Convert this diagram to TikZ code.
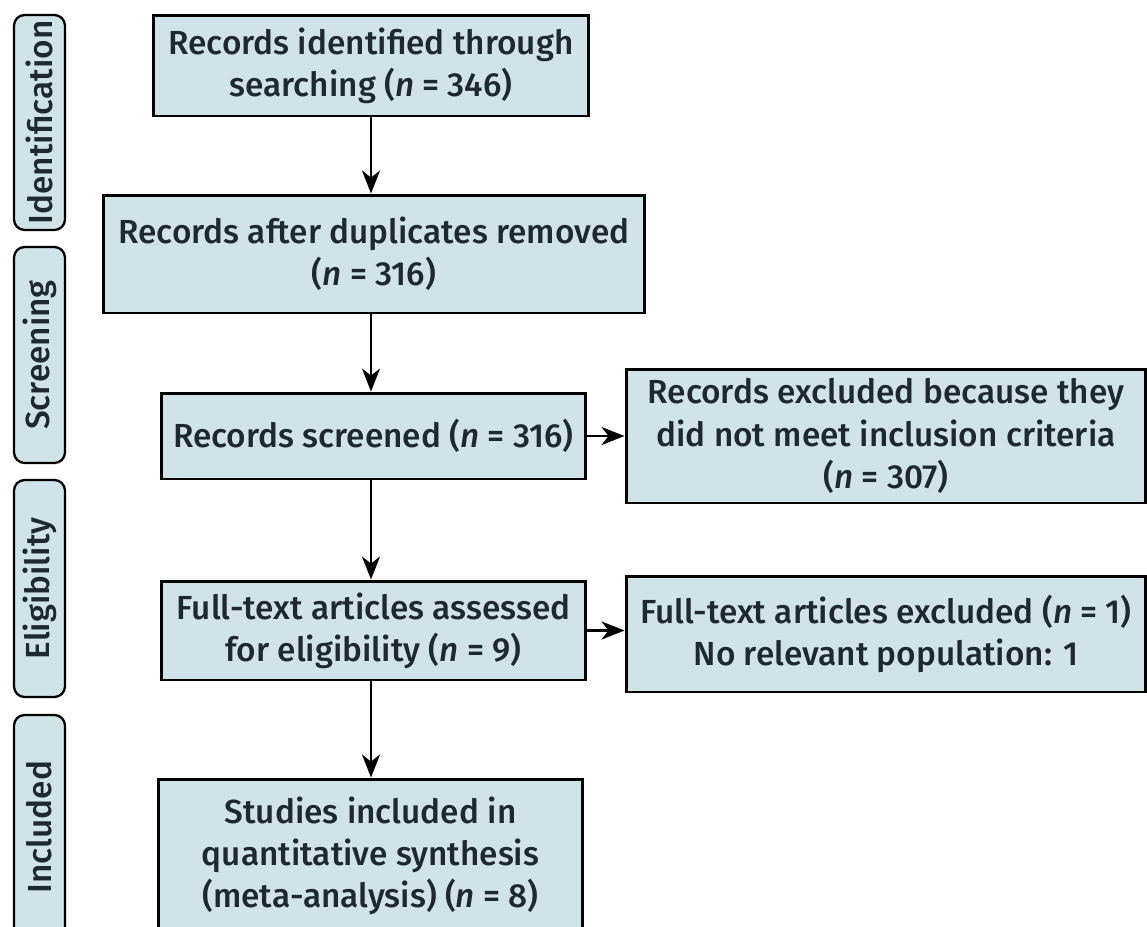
\documentclass[tikz,border=0pt]{standalone}
\usepackage{fontspec}
\setmainfont{Fira Sans}[UprightFont={* Medium},ItalicFont={* Medium Italic}]
\usepackage{xcolor}
\usepackage{tikz}
\usetikzlibrary{arrows.meta}
\definecolor{boxcolor}{HTML}{CFE3E9}
\definecolor{textcolor}{HTML}{1E2830}

\begin{document}
\begin{tikzpicture}[x=0.02cm,y=-0.02cm,
    box/.style={draw=black, line width=1.7pt, fill=boxcolor, text=textcolor, align=center,
      inner sep=0pt, font=\fontsize{19}{24}\selectfont},
    stage/.style={draw=black, line width=1.3pt, fill=boxcolor, text=textcolor, rounded corners=6pt,
      rotate=90, inner sep=0pt, minimum height=1.02cm, font=\fontsize{19}{24}\selectfont},
    flow/.style={line width=1.5pt, -{Stealth[length=0.46cm,width=0.36cm,inset=0.14cm]}}]
  \useasboundingbox (0,0) rectangle (1147,927);
  \clip (0,0) rectangle (1147,927);

%% stages on the left
\foreach \yc/\len/\stagetext in {122.5/4.3cm/Identification, 355/4.32cm/Screening, 588.5/4.34cm/Eligibility, 827/4.48cm/Included}
    \node[stage, minimum width=\len] (stage\stagetext) at (39.5,\yc) {\stagetext};

%% main column
  \node[box, minimum width=8.72cm, minimum height=2.02cm] (searched) at (371,65.5)
    {Records identified through\\searching (\textit{n} = 346)};
  \node[box, minimum width=10.84cm, minimum height=2.36cm] (dedup) at (374,254)
    {Records after duplicates removed\\(\textit{n} = 316)};
  \node[box, minimum width=8.5cm, minimum height=1.72cm] (screened) at (373.5,436)
    {Records screened (\textit{n} = 316)};
  \node[box, minimum width=8.5cm, minimum height=1.98cm] (assessed) at (373.5,630.5)
    {Full-text articles assessed\\for eligibility (\textit{n} = 9)};
  \node[box, minimum width=8.5cm, minimum height=3.08cm] (included) at (370.5,856)
    {Studies included in\\quantitative synthesis\\(meta-analysis) (\textit{n} = 8)};

%% exclusions
  \node[box, minimum width=10.4cm, minimum height=2.68cm] (excluded) at (886,436)
    {Records excluded because they\\did not meet inclusion criteria\\(\textit{n} = 307)};
  \node[box, minimum width=10.4cm, minimum height=2.32cm] (ftexcluded) at (886,634)
    {Full-text articles excluded (\textit{n} = 1)\\No relevant population: 1};

  \draw[flow] (searched.south) -- (searched.south |- dedup.north);
  \draw[flow] (searched.south |- dedup.south) -- (searched.south |- screened.north);
  \draw[flow] (searched.south |- screened.south) -- (searched.south |- assessed.north);
  \draw[flow] (searched.south |- assessed.south) -- (searched.south |- included.north);
  \draw[flow] (screened.east) -- (excluded.west);
  \draw[flow] (assessed.east) -- (assessed.east -| ftexcluded.west);
\end{tikzpicture}
\end{document}
